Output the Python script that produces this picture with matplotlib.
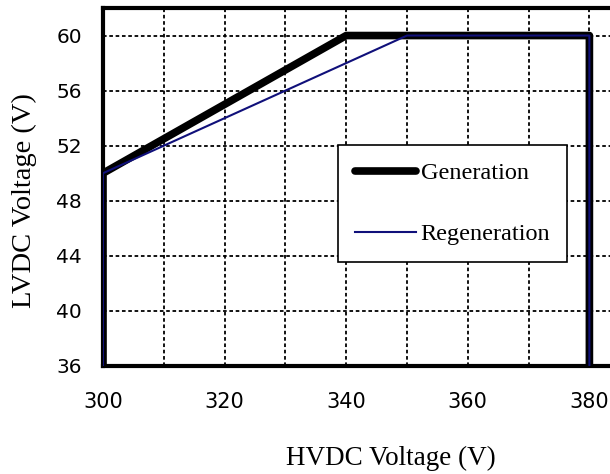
import matplotlib.pyplot as plt
from matplotlib.ticker import MultipleLocator

# данные
gen_hv = [300, 300, 340, 380, 380]
gen_lv = [36, 50, 60, 60, 36]
regen_hv = [300, 300, 350, 380, 380]
regen_lv = [36, 50, 60, 60, 36]

x_ticks = [300, 320, 340, 360, 380]
y_ticks = [36, 40, 44, 48, 52, 56, 60]

fig = plt.figure(figsize=(6.1, 4.74), dpi=100)
ax = fig.add_axes([103 / 610, 108 / 474, 85 * 6.08 / 610, 358 / 474])

ax.plot(gen_hv, gen_lv, color='black', lw=5.5, solid_capstyle='round',
        solid_joinstyle='round', label='Generation', zorder=3)
ax.plot(regen_hv, regen_lv, color='#10107a', lw=1.5, label='Regeneration', zorder=4)

ax.set_xlim(300, 385)
ax.set_ylim(36, 62)
ax.set_xticks(x_ticks)
ax.set_yticks(y_ticks)
ax.xaxis.set_minor_locator(MultipleLocator(10))
ax.grid(which='both', color='black', linestyle=(0, (2, 1.5)), linewidth=1.3, zorder=1)
ax.tick_params(which='both', length=0)
ax.tick_params(axis='x', labelsize=15, pad=19)
ax.tick_params(axis='y', labelsize=14.5, pad=15)

for s in ax.spines.values():
    s.set_linewidth(3)

serif = ['Liberation Serif', 'DejaVu Serif']
ax.set_xlabel('HVDC Voltage (V)', fontsize=19.5, family=serif, va='top')
ax.xaxis.set_label_coords(0.557, -0.223)
ax.set_ylabel('LVDC Voltage (V)', fontsize=20.5, family=serif)
ax.yaxis.set_label_coords(-0.128, 0.461)

leg = ax.legend(loc='upper left', bbox_to_anchor=(338 / 610, 1 - 145 / 474),
                bbox_transform=fig.transFigure, prop={'family': serif, 'size': 17.5},
                frameon=True, fancybox=False, framealpha=1, borderpad=0.7,
                labelspacing=1.62, handlelength=2.5, handletextpad=0.2, borderaxespad=0)
leg.get_frame().set_edgecolor('black')
leg.get_frame().set_linewidth(1.2)

plt.savefig('out.png', dpi=100)
